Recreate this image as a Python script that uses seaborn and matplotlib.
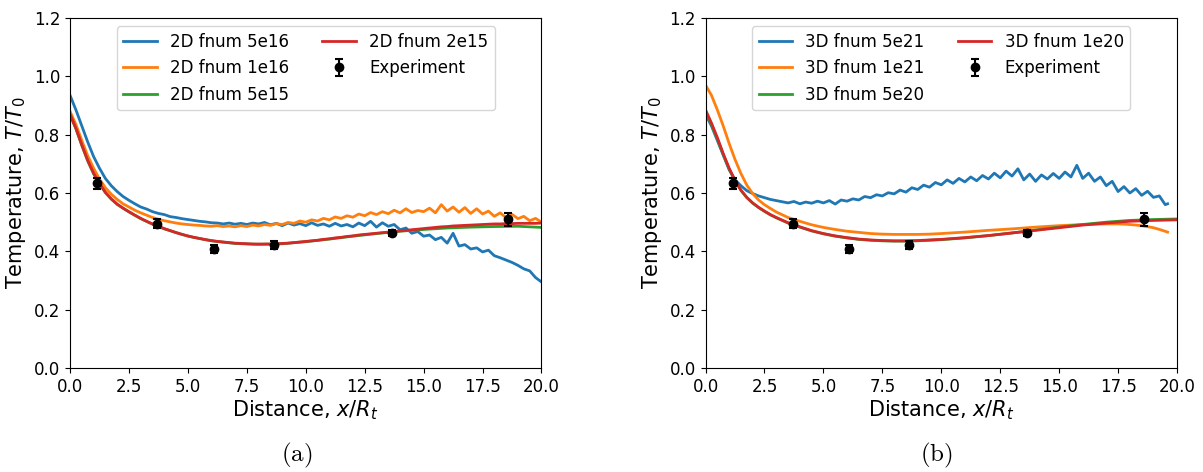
import matplotlib
matplotlib.use("Agg")
import matplotlib.pyplot as plt
import seaborn as sns
import pandas as pd

# ---------------- data ----------------
x_q = [0.0, 0.25, 0.5, 0.75, 1.0, 1.25, 1.5, 1.75, 2.0, 2.25, 2.5, 2.75, 3.0, 3.25, 3.5, 3.75,
       4.0, 4.25, 4.5, 4.75, 5.0, 5.25, 5.5, 5.75, 6.0, 6.25, 6.5, 6.75, 7.0, 7.25, 7.5, 7.75,
       8.0, 8.25, 8.5, 8.75, 9.0, 9.25, 9.5, 9.75, 10.0, 10.25, 10.5, 10.75, 11.0, 11.25, 11.5, 11.75,
       12.0, 12.25, 12.5, 12.75, 13.0, 13.25, 13.5, 13.75, 14.0, 14.25, 14.5, 14.75, 15.0, 15.25, 15.5, 15.75,
       16.0, 16.25, 16.5, 16.75, 17.0, 17.25, 17.5, 17.75, 18.0, 18.25, 18.5, 18.75, 19.0, 19.25, 19.5, 19.75, 20.0]

t2d_5e16 = [0.935, 0.885, 0.830, 0.775, 0.725, 0.685, 0.650, 0.625, 0.605, 0.588, 0.575, 0.563, 0.552, 0.545, 0.536, 0.530,
            0.526, 0.519, 0.516, 0.512, 0.509, 0.506, 0.503, 0.501, 0.498, 0.497, 0.494, 0.497, 0.493, 0.496, 0.492, 0.497,
            0.494, 0.499, 0.491, 0.496, 0.488, 0.497, 0.490, 0.495, 0.488, 0.498, 0.489, 0.494, 0.486, 0.496, 0.487, 0.492,
            0.484, 0.497, 0.488, 0.503, 0.483, 0.498, 0.486, 0.492, 0.474, 0.480, 0.462, 0.468, 0.452, 0.456, 0.440, 0.448,
            0.428, 0.462, 0.418, 0.423, 0.408, 0.412, 0.398, 0.404, 0.385, 0.378, 0.370, 0.362, 0.352, 0.340, 0.333, 0.310, 0.295]

t2d_1e16 = [0.880, 0.835, 0.780, 0.728, 0.685, 0.648, 0.618, 0.596, 0.578, 0.563, 0.552, 0.541, 0.532, 0.524, 0.516, 0.510,
            0.505, 0.501, 0.497, 0.494, 0.492, 0.490, 0.489, 0.487, 0.486, 0.488, 0.485, 0.487, 0.484, 0.488, 0.485, 0.490,
            0.487, 0.492, 0.489, 0.495, 0.492, 0.499, 0.496, 0.504, 0.500, 0.508, 0.504, 0.513, 0.508, 0.518, 0.513, 0.522,
            0.517, 0.528, 0.522, 0.533, 0.526, 0.536, 0.529, 0.541, 0.532, 0.546, 0.533, 0.540, 0.536, 0.548, 0.532, 0.560,
            0.538, 0.552, 0.534, 0.550, 0.530, 0.546, 0.528, 0.538, 0.520, 0.532, 0.515, 0.527, 0.512, 0.520, 0.505, 0.513, 0.500]

t2d_2e15 = [0.870, 0.822, 0.765, 0.712, 0.668, 0.633, 0.603, 0.580, 0.562, 0.548, 0.536, 0.524, 0.513, 0.503, 0.494, 0.486,
            0.478, 0.471, 0.464, 0.458, 0.453, 0.448, 0.444, 0.440, 0.437, 0.434, 0.432, 0.430, 0.428, 0.427, 0.426, 0.425,
            0.425, 0.425, 0.425, 0.426, 0.427, 0.428, 0.430, 0.432, 0.434, 0.436, 0.438, 0.441, 0.443, 0.446, 0.448, 0.451,
            0.453, 0.456, 0.458, 0.460, 0.462, 0.464, 0.466, 0.468, 0.470, 0.472, 0.474, 0.476, 0.478, 0.480, 0.482, 0.484,
            0.485, 0.487, 0.488, 0.489, 0.490, 0.491, 0.492, 0.493, 0.494, 0.494, 0.495, 0.495, 0.496, 0.496, 0.496, 0.496, 0.497]

x_2d_5e15 = [0.0, 0.25, 0.5, 0.75, 1.0, 1.25, 1.5, 1.75, 2.0, 2.5, 3.0, 3.5, 4.0, 5.0, 6.0, 7.0, 8.0, 9.0, 10.0,
             11.0, 12.0, 13.0, 14.0, 15.0, 16.0, 17.0, 18.0, 19.0, 20.0]
t2d_5e15 = [0.868, 0.820, 0.763, 0.710, 0.666, 0.631, 0.601, 0.579, 0.561, 0.535, 0.512, 0.493, 0.477, 0.452, 0.436, 0.427,
            0.424, 0.426, 0.433, 0.442, 0.452, 0.461, 0.469, 0.475, 0.480, 0.483, 0.485, 0.486, 0.482]

x_3d_5e21 = x_q[:-2] + [19.6]
t3d_5e21 = [0.870, 0.830, 0.780, 0.730, 0.680, 0.645, 0.625, 0.608, 0.598, 0.590, 0.584, 0.578, 0.574, 0.570, 0.566, 0.571,
            0.563, 0.569, 0.565, 0.572, 0.566, 0.574, 0.562, 0.576, 0.572, 0.580, 0.576, 0.588, 0.584, 0.594, 0.590, 0.601,
            0.597, 0.610, 0.603, 0.618, 0.612, 0.627, 0.620, 0.636, 0.628, 0.645, 0.633, 0.650, 0.638, 0.655, 0.642, 0.660,
            0.648, 0.668, 0.652, 0.675, 0.658, 0.683, 0.645, 0.665, 0.640, 0.662, 0.648, 0.667, 0.650, 0.672, 0.655, 0.695,
            0.650, 0.668, 0.640, 0.655, 0.625, 0.640, 0.605, 0.622, 0.600, 0.615, 0.592, 0.606, 0.585, 0.590, 0.560, 0.563]

x_3d_1e21 = [0.0, 0.25, 0.5, 0.75, 1.0, 1.25, 1.5, 1.75, 2.0, 2.25, 2.5, 2.75, 3.0, 3.5, 4.0, 4.5, 5.0, 5.5, 6.0, 6.5,
             7.0, 7.5, 8.0, 8.5, 9.0, 9.5, 10.0, 11.0, 12.0, 13.0, 14.0, 15.0, 16.0, 17.0, 17.5, 18.0, 18.5, 19.0, 19.3, 19.6]
t3d_1e21 = [0.970, 0.935, 0.885, 0.830, 0.770, 0.715, 0.667, 0.627, 0.598, 0.576, 0.560, 0.547, 0.535, 0.516, 0.503, 0.491,
            0.482, 0.475, 0.469, 0.465, 0.461, 0.459, 0.458, 0.458, 0.458, 0.459, 0.461, 0.466, 0.472, 0.477, 0.483, 0.488,
            0.492, 0.494, 0.494, 0.492, 0.488, 0.481, 0.474, 0.466]

x_3d_smooth = [0.0, 0.25, 0.5, 0.75, 1.0, 1.25, 1.5, 1.75, 2.0, 2.25, 2.5, 2.75, 3.0, 3.5, 4.0, 4.5, 5.0, 5.5, 6.0, 6.5,
               7.0, 7.5, 8.0, 8.5, 9.0, 9.5, 10.0, 11.0, 12.0, 13.0, 14.0, 15.0, 16.0, 17.0, 18.0, 19.0, 20.0]
t3d_5e20 = [0.878, 0.835, 0.786, 0.732, 0.683, 0.642, 0.609, 0.584, 0.565, 0.550, 0.537, 0.525, 0.515, 0.497, 0.483, 0.470,
            0.460, 0.452, 0.446, 0.441, 0.438, 0.436, 0.435, 0.435, 0.436, 0.438, 0.440, 0.446, 0.454, 0.463, 0.473, 0.483,
            0.492, 0.500, 0.506, 0.509, 0.511]
t3d_1e20 = [0.885, 0.840, 0.790, 0.735, 0.685, 0.643, 0.610, 0.585, 0.566, 0.551, 0.538, 0.526, 0.516, 0.498, 0.484, 0.471,
            0.461, 0.453, 0.447, 0.442, 0.439, 0.437, 0.436, 0.436, 0.437, 0.439, 0.441, 0.447, 0.454, 0.463, 0.472, 0.481,
            0.490, 0.497, 0.503, 0.506, 0.508]

exp_x = [1.15, 3.7, 6.1, 8.65, 13.65, 18.6]
exp_y = [0.633, 0.495, 0.408, 0.422, 0.462, 0.510]
exp_err = [0.018, 0.016, 0.014, 0.013, 0.010, 0.022]

labels_2d = ["2D fnum 5e16", "2D fnum 1e16", "2D fnum 5e15", "2D fnum 2e15"]
labels_3d = ["3D fnum 5e21", "3D fnum 1e21", "3D fnum 5e20", "3D fnum 1e20"]
colors = ["#1f77b4", "#ff7f0e", "#2ca02c", "#d62728"]

series_2d = [(x_q, t2d_5e16), (x_q, t2d_1e16), (x_2d_5e15, t2d_5e15), (x_q, t2d_2e15)]
series_3d = [(x_3d_5e21, t3d_5e21), (x_3d_1e21, t3d_1e21), (x_3d_smooth, t3d_5e20), (x_3d_smooth, t3d_1e20)]

# ---------------- figure ----------------
fig, axes = plt.subplots(1, 2, figsize=(12.03, 4.72), dpi=100)
fig.subplots_adjust(left=0.0582, right=0.9784, bottom=0.2203, top=0.9619, wspace=0.348)

for ax, series, labels, tag, xc in [(axes[0], series_2d, labels_2d, "(a)", 0.247),
                                     (axes[1], series_3d, labels_3d, "(b)", 0.778)]:
    for (xs, ys), lab, col in zip(series, labels, colors):
        df = pd.DataFrame({"x": xs, "y": ys})
        sns.lineplot(data=df, x="x", y="y", ax=ax, color=col, linewidth=2.0, label=lab, sort=False)
    ax.errorbar(exp_x, exp_y, yerr=exp_err, fmt="o", color="black", markersize=6,
                capsize=3, elinewidth=1.5, capthick=1.5, label="Experiment", zorder=5)
    ax.set_xlim(0, 20)
    ax.set_ylim(0, 1.2)
    ax.set_xticks([0, 2.5, 5, 7.5, 10, 12.5, 15, 17.5, 20])
    ax.set_yticks([0, 0.2, 0.4, 0.6, 0.8, 1.0, 1.2])
    ax.tick_params(labelsize=12)
    ax.set_xlabel(r"Distance, $x/R_t$", fontsize=15, labelpad=2)
    ax.set_ylabel(r"Temperature, $T/T_0$", fontsize=15, labelpad=4)
    ax.legend(loc="upper center", ncol=2, fontsize=12, framealpha=0.8)
    fig.text(xc, 1 - 455 / 472, r"$\mathrm{" + tag + "}$", math_fontfamily="cm",
             fontsize=18, ha="center", va="center")

fig.savefig("out.png", dpi=100)
